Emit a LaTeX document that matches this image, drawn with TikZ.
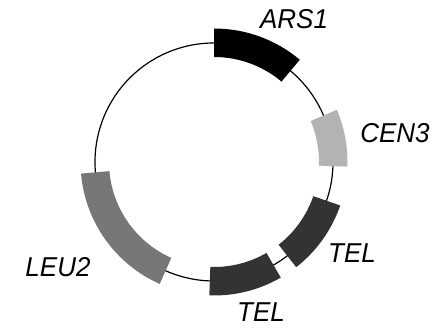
\documentclass[tikz,border=0pt]{standalone}
\usepackage{fontspec}
\setmainfont{Liberation Sans}
\definecolor{arscol}{HTML}{000000}
\definecolor{cencol}{HTML}{B3B3B3}
\definecolor{telcol}{HTML}{333333}
\definecolor{leucol}{HTML}{777777}
\newcommand\plasmidseg[3]{%
  \fill[#1] (#2:133.5) arc[start angle=#2, end angle=#3, radius=133.5]
    -- (#3:105) arc[start angle=#3, end angle=#2, radius=105] -- cycle;}
\begin{document}
\begin{tikzpicture}[x=1pt,y=1pt,
  lab/.style={font=\fontsize{26}{30}\selectfont\itshape, inner sep=0pt, yscale=1.05}]
\useasboundingbox (0,0) rectangle (436,328);
\begin{scope}[shift={(214,166)}]
  \draw[line width=1.2pt] (0,0) circle[radius=119];
  \plasmidseg{arscol}{50}{90}
  \plasmidseg{cencol}{-2}{23}
  \plasmidseg{telcol}{-52}{-19}
  \plasmidseg{telcol}{-92}{-60}
  \plasmidseg{leucol}{185}{246}
\end{scope}
\node[lab] (ars) at (294,309) {ARS1};
\node[lab] (cen) at (395,195) {CEN3};
\node[lab] (tel1) at (352,75) {TEL};
\node[lab] (tel2) at (261,16) {TEL};
\node[lab] (leu) at (58,61) {LEU2};
\end{tikzpicture}
\end{document}
